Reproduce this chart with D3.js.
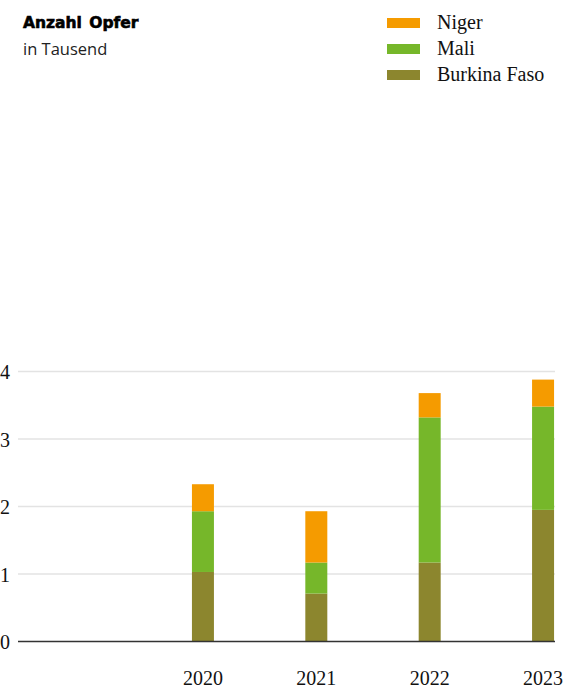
<!DOCTYPE html>
<html><head><meta charset="utf-8">
<script src="https://cdn.jsdelivr.net/npm/d3@7"></script>
<style>
html,body{margin:0;padding:0;background:#fff;}
svg{display:block;}
</style></head>
<body>
<svg id="chart" width="581" height="687"></svg>
<script>
const years = ["2020", "2021", "2022", "2023"];
const seriesNames = ["Burkina Faso", "Mali", "Niger"];
const burkina = [1.03, 0.71, 1.17, 1.95];
const mali = [0.90, 0.46, 2.15, 1.53];
const niger = [0.40, 0.76, 0.36, 0.40];
const yTicks = [0, 1, 2, 3, 4];
const colors = {"Niger": "#f59b00", "Mali": "#76b72a", "Burkina Faso": "#8c862e"};
const legendOrder = ["Niger", "Mali", "Burkina Faso"];

const rows = years.map((y, i) => ({year: y, "Burkina Faso": burkina[i], "Mali": mali[i], "Niger": niger[i]}));
const stack = d3.stack().keys(seriesNames)(rows);

const svg = d3.select("#chart");
const x = d3.scaleBand().domain(years).range([146.25, 599.75]).paddingInner(0.806).paddingOuter(0.403);
const y = d3.scaleLinear().domain([0, 4]).range([641.5, 371.5]);

// gridlines
svg.append("g").selectAll("line").data(yTicks.filter(t => t > 0)).join("line")
  .attr("x1", 18).attr("x2", 555)
  .attr("y1", d => y(d)).attr("y2", d => y(d))
  .attr("stroke", "#e3e3e3").attr("stroke-width", 1.5);

// y labels
svg.append("g").selectAll("text").data(yTicks).join("text")
  .attr("x", 10).attr("y", d => y(d) + 7.5)
  .attr("text-anchor", "end")
  .attr("font-family", "Liberation Serif").attr("font-size", 20).attr("fill", "#111")
  .text(d => d);

// bars
svg.append("g").selectAll("g").data(stack).join("g")
  .attr("fill", d => colors[d.key])
  .selectAll("rect").data(d => d).join("rect")
  .attr("x", d => x(d.data.year))
  .attr("width", x.bandwidth())
  .attr("y", d => y(d[1]))
  .attr("height", d => y(d[0]) - y(d[1]));

// baseline
svg.append("line").attr("x1", 18).attr("x2", 555).attr("y1", y(0)).attr("y2", y(0))
  .attr("stroke", "#333").attr("stroke-width", 1.5);

// x axis labels
const xAxis = d3.axisBottom(x).tickSize(0).tickPadding(0);
const gx = svg.append("g").attr("transform", `translate(0,${y(0)})`).call(xAxis);
gx.select(".domain").remove();
gx.selectAll("text").attr("dy", null).attr("y", 43)
  .attr("font-family", "Liberation Serif").attr("font-size", 20).attr("fill", "#111");

// title
svg.append("text").attr("x", 23).attr("y", 27.5)
  .attr("font-family", "DejaVu Sans").attr("font-weight", "bold").attr("font-size", 15.5)
  .attr("word-spacing", 2).attr("fill", "#000")
  .attr("stroke", "#000").attr("stroke-width", 0.6).text("Anzahl Opfer");
svg.append("text").attr("x", 23).attr("y", 55)
  .attr("font-family", "Open Sans").attr("font-size", 16.5).attr("fill", "#222").text("in Tausend");

// legend
const lg = svg.append("g").selectAll("g").data(legendOrder).join("g")
  .attr("transform", (d, i) => `translate(387,${18 + i * 26})`);
lg.append("rect").attr("width", 33).attr("height", 10).attr("fill", d => colors[d]);
lg.append("text").attr("x", 50).attr("y", 10.5)
  .attr("font-family", "Liberation Serif").attr("font-size", 20).attr("fill", "#111")
  .text(d => d);
</script>
</body></html>
